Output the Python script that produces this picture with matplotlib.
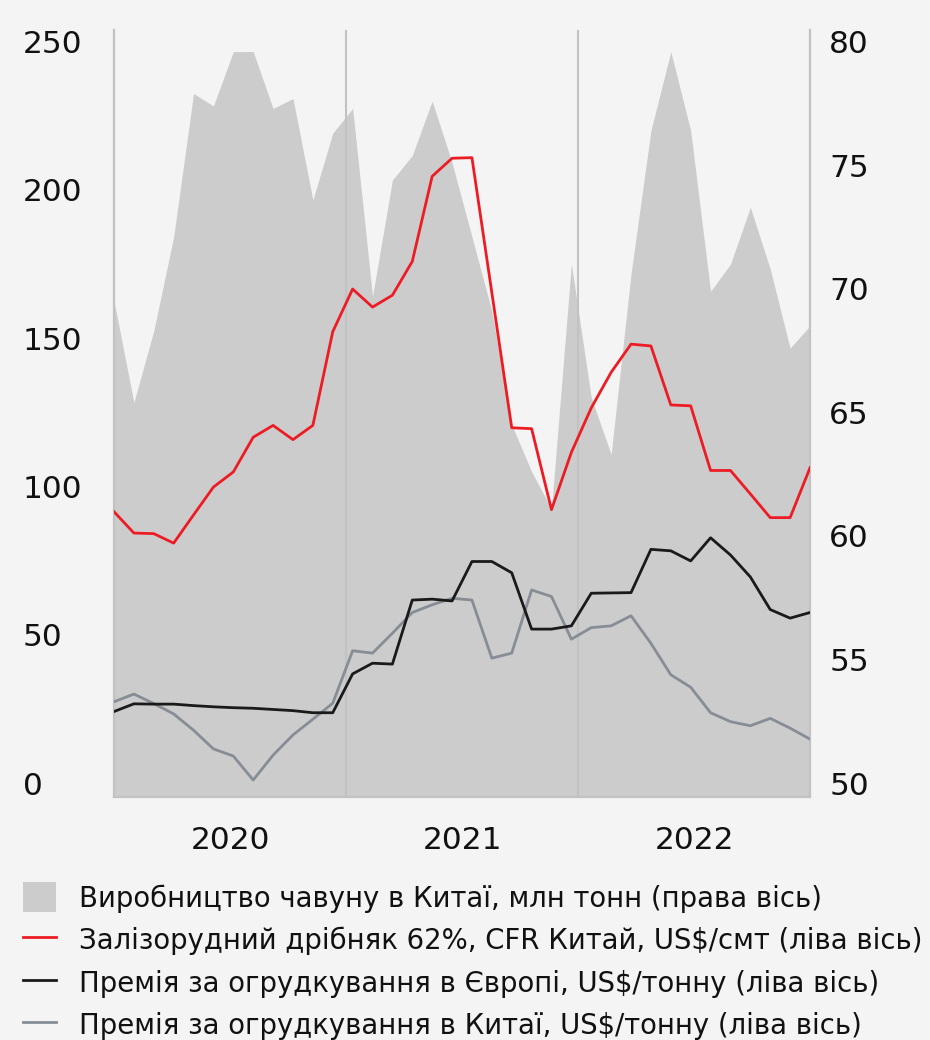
import numpy as np
import matplotlib.pyplot as plt
from matplotlib.patches import Patch
from matplotlib.lines import Line2D

# Monthly data, Jan 2020 - Dec 2022
months = [f'{y}-{m:02d}' for y in (2020, 2021, 2022) for m in range(1, 13)]
years = ['2020', '2021', '2022']

# China pig iron output, mln t (right axis)
pig_iron = [69.5, 65.4, 68.3, 72.1, 77.9, 77.4, 79.6, 79.6, 77.3, 77.7, 73.6, 76.3,
            77.3, 69.7, 74.4, 75.4, 77.6, 75.1, 72.1, 69.1, 64.5, 62.6, 61.1, 71.0,
            65.6, 63.3, 70.6, 76.4, 79.6, 76.4, 69.9, 71.0, 73.3, 70.8, 67.6, 68.5]

# Iron ore fines 62% CFR China, US$/dmt (left axis)
iron_ore = [91.5, 84.3, 84.1, 80.9, 90.4, 99.8, 104.9, 116.6, 120.6, 115.8, 120.6, 152.2,
            166.6, 160.5, 164.5, 175.9, 204.6, 210.7, 210.9, 165.4, 119.8, 119.5, 92.2, 111.5,
            126.5, 138.5, 148.0, 147.4, 127.5, 127.2, 105.4, 105.4, 97.5, 89.5, 89.5, 106.3]

# Pellet premium Europe, US$/t (left axis)
premium_europe = [24.1, 26.7, 26.6, 26.6, 26.1, 25.7, 25.4, 25.2, 24.8, 24.4, 23.7, 23.7,
                  36.8, 40.4, 40.1, 61.7, 62.0, 61.4, 74.7, 74.7, 70.9, 51.9, 51.9, 53.0,
                  64.0, 64.1, 64.2, 78.8, 78.3, 74.9, 82.7, 76.9, 69.5, 58.5, 55.6, 57.5]

# Pellet premium China, US$/t (left axis)
premium_china = [27.4, 30.0, 26.8, 23.3, 17.8, 11.5, 9.1, 1.0, 9.4, 16.2, 21.5, 26.9,
                 44.6, 43.8, 50.5, 57.5, 60.1, 62.3, 61.7, 42.1, 43.8, 65.1, 62.9, 48.5,
                 52.4, 53.0, 56.4, 47.1, 36.5, 32.3, 23.7, 20.7, 19.3, 21.8, 18.5, 14.8]

labels = ['Виробництво чавуну в Китаї, млн тонн (права вісь)',
          'Залізорудний дрібняк 62%, CFR Китай, US$/смт (ліва вісь)',
          'Премія за огрудкування в Європі, US$/тонну (ліва вісь)',
          'Премія за огрудкування в Китаї, US$/тонну (ліва вісь)']

BG = '#f4f4f4'
AREA = '#cccccc'
RED = '#ed1c24'
BLACK = '#1a1a1a'
GREY = '#878d95'
RULE = '#c2c2c2'

plt.rcParams['font.family'] = ['DejaVu Sans']

x = np.arange(len(months))
year_bounds = np.linspace(0, len(months) - 1, 4)
year_mid = (year_bounds[:-1] + year_bounds[1:]) / 2

fig = plt.figure(figsize=(9.3, 10.4), dpi=100, facecolor=BG)
ax = fig.add_axes([114 / 930, 1 - 796.7 / 1040, 696 / 930, 766.7 / 1040])
ax.set_facecolor(BG)
ax2 = ax.twinx()

# area on the right axis, drawn underneath the lines
ax2.set_zorder(1)
ax.set_zorder(2)
ax.patch.set_visible(False)
ax2.set_ylim(49.446, 80.474)
ax2.fill_between(x, pig_iron, 49.446, color=AREA, lw=0)
for b in year_bounds[1:-1]:
    ax2.axvline(b, color=RULE, lw=1.5, zorder=3)

ax.plot(x, premium_china, color=GREY, lw=2.0, zorder=3)
ax.plot(x, premium_europe, color=BLACK, lw=2.0, zorder=4)
ax.plot(x, iron_ore, color=RED, lw=2.0, zorder=5)

ax.set_xlim(0, len(months) - 1)
ax.set_ylim(-4.62, 253.95)
ax.set_yticks([0, 50, 100, 150, 200, 250])
ax2.set_yticks([50, 55, 60, 65, 70, 75, 80])
ax.set_xticks(year_mid, years)

for a in (ax, ax2):
    a.spines['top'].set_visible(False)
    for s in ('left', 'right', 'bottom'):
        a.spines[s].set_color(RULE)
        a.spines[s].set_linewidth(1.5)

ax.tick_params(axis='y', length=0, pad=65.5, labelsize=22.5, labelcolor='#111111')
ax2.tick_params(axis='y', length=0, pad=42.5, labelsize=22.5, labelcolor='#111111')
ax.tick_params(axis='x', length=0, pad=21, labelsize=22.5, labelcolor='#111111')
for lbl in ax.get_yticklabels():
    lbl.set_ha('left')
for lbl in ax2.get_yticklabels():
    lbl.set_ha('right')

handles = [Patch(facecolor=AREA, edgecolor='none'),
           Line2D([], [], color=RED, lw=2),
           Line2D([], [], color=BLACK, lw=2),
           Line2D([], [], color=GREY, lw=2)]
fig.legend(handles, labels, loc='upper left', bbox_to_anchor=(22.7 / 930, 1 - 882.5 / 1040),
           frameon=False, fontsize=19.8, handlelength=1.2, handleheight=1.3,
           handletextpad=0.84, labelspacing=0.45, borderpad=0, borderaxespad=0,
           labelcolor='#111111')

fig.savefig('out.png', dpi=100, facecolor=BG)
